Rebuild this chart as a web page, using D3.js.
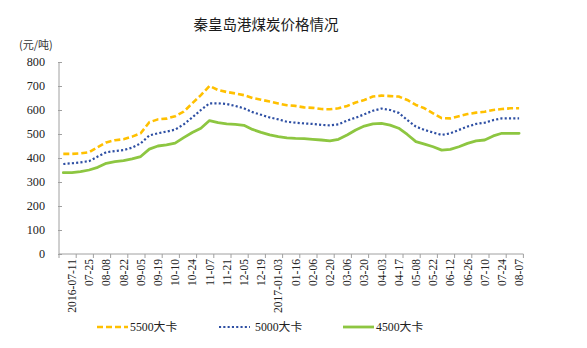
<!DOCTYPE html>
<html><head><meta charset="utf-8">
<script src="https://cdn.jsdelivr.net/npm/d3@7"></script>
<style>body{margin:0;background:#fff}svg{display:block}</style>
</head><body><svg id="c" width="587" height="348"></svg>
<script>
const dates = ["2016-07-04","2016-07-11","2016-07-18","2016-07-25","2016-08-01","2016-08-08","2016-08-15","2016-08-22","2016-08-29","2016-09-05",
"2016-09-12","2016-09-19","2016-09-26","2016-10-10","2016-10-17","2016-10-24","2016-10-31","2016-11-07","2016-11-14","2016-11-21",
"2016-11-28","2016-12-05","2016-12-12","2016-12-19","2016-12-26","2017-01-03","2017-01-09","2017-01-16","2017-01-23","2017-02-06",
"2017-02-13","2017-02-20","2017-02-27","2017-03-06","2017-03-13","2017-03-20","2017-03-27","2017-04-03","2017-04-10","2017-04-17",
"2017-04-24","2017-05-08","2017-05-15","2017-05-22","2017-06-05","2017-06-12","2017-06-19","2017-06-26","2017-07-03","2017-07-10",
"2017-07-17","2017-07-24","2017-07-31","2017-08-07"];
const labelDates = dates.filter((d, i) => i % 2 === 1);
const fullLabelDates = ["2016-07-11", "2017-01-03"];
const p5500 = [417,417,419,424,445,465,474,478,489,503,549,561,564,574,593,628,662,700,683,675,669,662,650,643,635,627,620,617,611,609,604,603,607,617,631,642,656,660,658,656,642,621,607,586,566,565,574,583,589,593,600,604,607,607];
const p5000 = [375,378,382,387,406,424,429,433,443,461,494,503,510,518,540,569,600,628,628,625,617,607,591,580,569,561,551,547,544,542,538,536,540,556,568,582,597,606,600,588,558,531,517,506,496,503,517,531,542,547,558,565,565,565];
const p4500 = [339,339,343,350,361,378,385,389,396,406,437,450,455,462,485,506,524,556,547,542,540,536,519,507,496,489,484,482,481,478,475,471,478,496,517,533,542,544,537,524,498,468,458,447,433,436,447,461,471,475,492,503,503,503];
const yTicks = [0,100,200,300,400,500,600,700,800];
const seriesNames = ["5500大卡", "5000大卡", "4500大卡"];
const titleText = "秦皇岛港煤炭价格情况";
const unitText = "(元/吨)";

const svg = d3.select("#c");
const L = 59, R = 523.4, T = 62, B = 254;
const x = d3.scalePoint().domain(dates).range([L, R]).padding(0.5);
const step = x.step();
const y = d3.scaleLinear().domain([0, 800]).range([B, T]);
const serif = "'Liberation Serif','Times New Roman','Noto Sans CJK SC',serif";

svg.append("text").attr("x", 266).attr("y", 30).attr("text-anchor", "middle")
  .attr("font-family", "'Noto Sans CJK SC',sans-serif").attr("font-size", 14.5).attr("fill", "#1a1a1a").text(titleText);
svg.append("text").attr("x", 19).attr("y", 49)
  .attr("font-family", "'Noto Sans CJK SC',sans-serif").attr("font-size", 11).attr("fill", "#333").text(unitText);

// y axis
const gy = svg.append("g").attr("transform", `translate(${L},0)`)
  .call(d3.axisLeft(y).tickValues(yTicks).tickSize(3).tickPadding(11).tickFormat(d3.format("d")));
gy.select(".domain").attr("stroke", "#a0a0a0").attr("d", `M0,${B}V${T}`);
gy.selectAll(".tick line").attr("stroke", "#a0a0a0").attr("x1", -1).attr("x2", 3);
gy.selectAll(".tick text").attr("font-family", serif).attr("font-size", 12.2).attr("fill", "#222");

// x axis
const gx = svg.append("g");
gx.append("line").attr("x1", L).attr("x2", R).attr("y1", B).attr("y2", B).attr("stroke", "#a0a0a0");
const boundaries = dates.filter((d, i) => i % 2 === 0).map(d => x(d) - step / 2).concat([x(dates[dates.length - 1]) + step / 2]);
gx.selectAll("line.tk").data(boundaries).join("line").attr("class", "tk")
  .attr("x1", d => d).attr("x2", d => d).attr("y1", B).attr("y2", B + 4).attr("stroke", "#a0a0a0");
gx.selectAll("text").data(labelDates).join("text")
  .attr("transform", d => `translate(${x(d)},${B + 5}) rotate(-90)`)
  .attr("text-anchor", "end").attr("dy", "0.35em")
  .attr("font-family", serif).attr("font-size", 11.6).attr("fill", "#222")
  .text(d => fullLabelDates.includes(d) ? d : d.slice(5));

// lines
const line = d3.line().x((d, i) => x(dates[i])).y(d => y(d));
const styles = [
  {data: p5500, color: "#FFC000", width: 2.6, dash: "6,3", cap: "butt"},
  {data: p5000, color: "#2E4FA3", width: 2.2, dash: "2.1,2.2", cap: "butt"},
  {data: p4500, color: "#8DC641", width: 2.8, dash: null, cap: "round"}
];
styles.slice().reverse().forEach(s => {
  svg.append("path").datum(s.data).attr("d", line).attr("fill", "none")
    .attr("stroke", s.color).attr("stroke-width", s.width).attr("stroke-dasharray", s.dash)
    .attr("stroke-linecap", s.cap).attr("stroke-linejoin", "round");
});

// legend
const legX = [97, 219, 343];
const leg = svg.append("g");
seriesNames.forEach((name, k) => {
  const s = styles[k];
  leg.append("line").attr("x1", legX[k]).attr("x2", legX[k] + 31).attr("y1", 327).attr("y2", 327)
    .attr("stroke", s.color).attr("stroke-width", s.width).attr("stroke-dasharray", s.dash);
  leg.append("text").attr("x", legX[k] + 33 + (k === 1 ? 3 : 0)).attr("y", 331)
    .attr("font-family", serif).attr("font-size", 11.8).attr("fill", "#222").text(name);
});
</script></body></html>
